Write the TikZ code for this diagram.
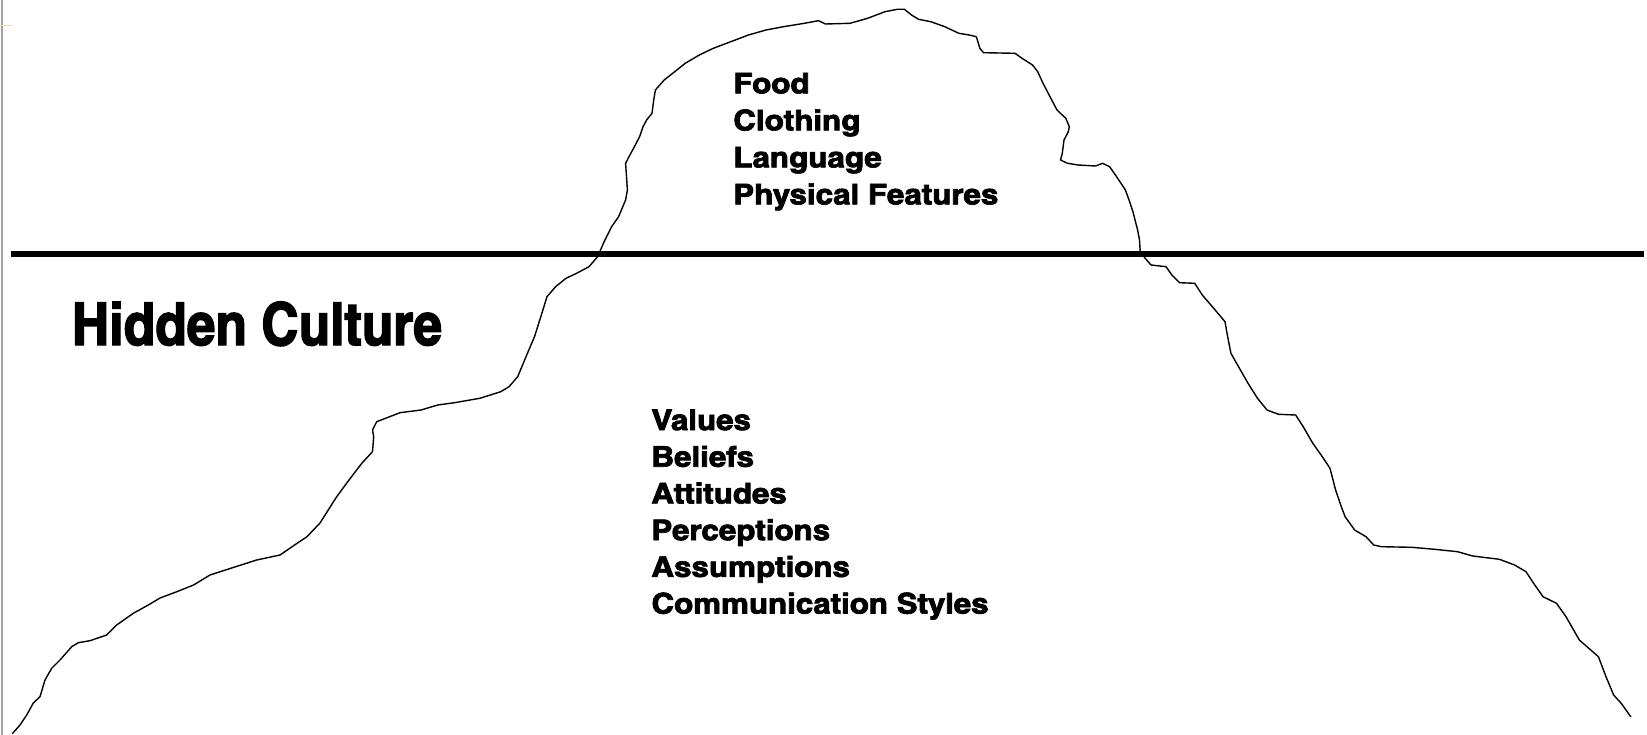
\documentclass[tikz,border=0pt]{standalone}
\usepackage{fontspec}
\usepackage{graphicx}
\newfontfamily\impactish{texgyreheroscn-bold}[Extension=.otf, FakeBold=2.2]
\tikzset{
  waterline/.style={line width=6pt, black},
  iceberg/.style={line width=1.4pt, black, line join=round, line cap=round},
  label/.style={inner sep=0pt, outer sep=0pt, anchor=base west, align=left},
}
\begin{document}
\begin{tikzpicture}[x=1pt, y=-1pt]
\useasboundingbox (0,0) rectangle (1647,735);
\fill[white] (0,0) rectangle (1647,735);
% window edge
\fill[black!37] (1,0) rectangle (3,735);
\draw[color={rgb,255:red,230;green,222;blue,176}, line width=1pt] (0,26) -- (12,26);
% water line
\coordinate (wl) at (11,254);
\coordinate (wr) at (1644,254);
\draw[waterline] (wl) -- (wr);
% iceberg outline
\draw[iceberg] (12.7,733.3) -- (20,725) -- (26.7,715) -- (33.3,703) -- (40,696.7) -- (45,680) -- (51.7,668.3) -- (60,660) -- (71.7,646.7) -- (78.3,642.7) -- (90,640.7) -- (106.7,635) -- (116.7,625) -- (133.3,613.3) -- (148.3,605) -- (160,598) -- (176.8,591.7) -- (193.6,585) -- (210,575) -- (235.7,566.7) -- (256.7,560) -- (280,555) -- (294.6,545) -- (307,536.7) -- (320,523) -- (336.7,496.7) -- (349,480) -- (362,463) -- (372.5,451.7) -- (373.7,436.7) -- (372.5,430) -- (376.7,421.7) -- (400,412.7) -- (421,410) -- (437.7,405) -- (454.5,402.7) -- (479.8,398.3) -- (500.8,391.7) -- (509,386.7) -- (517.7,376.7) -- (526,356.7) -- (534.5,336.7) -- (540.8,316.7) -- (547,296.7) -- (555.6,286.7) -- (566,278.3) -- (576.6,273.3) -- (589,266.7) -- (597.6,256.7) -- (604,242) -- (611.6,226.7) -- (618.6,216.7) -- (625.6,200) -- (627.4,190) -- (625.6,163.3) -- (629,156.7) -- (634.4,146.7) -- (639.6,136.7) -- (643,126.7) -- (646.6,120) -- (652,113.3) -- (653.7,100) -- (655.4,90) -- (664.2,80) -- (674.7,71.7) -- (685.2,63.3) -- (699.3,55) -- (713.3,48.3) -- (730.8,41.7) -- (748.4,35) -- (766,30) -- (783.4,26.7) -- (804.5,23.3) -- (818.5,20.7) -- (825.5,24) -- (850,23.3) -- (867.6,18.3) -- (885,11.7) -- (897.4,9.3) -- (904.4,9.3) -- (911.5,15) -- (918.5,19.3) -- (930.8,21.7) -- (944.8,26.7) -- (958.8,33.3) -- (969.3,35) -- (976.3,36.7) -- (979.9,48.3) -- (983.4,52.7) -- (1015,53.3) -- (1022,58.3) -- (1032.5,65) -- (1037.7,71.7) -- (1043,83.3) -- (1050,96.7) -- (1057,110) -- (1065.8,118.3) -- (1069.3,126.7) -- (1068.3,131.7) -- (1064,140) -- (1062.3,153.3) -- (1060.5,160) -- (1067.5,163.3) -- (1078,165) -- (1095.6,166) -- (1102.6,163.3) -- (1109.6,166.7) -- (1116.6,176.7) -- (1125.4,190) -- (1129,200) -- (1133,212) -- (1137.6,230) -- (1139.5,240) -- (1140.2,251.7) -- (1145.2,258.3) -- (1151,265) -- (1166,266.7) -- (1171.9,275) -- (1179.5,282.7) -- (1194.7,283.3) -- (1202.3,295) -- (1213.7,308.3) -- (1225,321.7) -- (1227,333.3) -- (1230.9,353.3) -- (1240.4,370) -- (1248,383.3) -- (1257.5,398.3) -- (1267,410) -- (1278.5,414.3) -- (1295.6,415) -- (1303.2,426.7) -- (1312.8,443.3) -- (1322.3,456.7) -- (1330,468.3) -- (1335.6,490) -- (1341.3,506.7) -- (1345.1,516.7) -- (1354.6,530) -- (1366,536.7) -- (1373.7,545) -- (1381.3,546.7) -- (1411.8,547.3) -- (1434.6,549.3) -- (1457.5,551.7) -- (1472.7,556) -- (1499.4,559.3) -- (1514.6,565) -- (1526,571.7) -- (1533.6,583.3) -- (1543,596.7) -- (1556.5,603.3) -- (1566,616.7) -- (1579.3,640) -- (1598.4,656.7) -- (1606,676.7) -- (1613.6,695) -- (1621.2,703.3) -- (1630.7,716.7);
% texts
\node[label, font=\impactish\fontsize{28.5}{37}\selectfont] (visible) at (733.3,93.3)
  {\resizebox{265pt}{\height}{\begin{tabular}[t]{@{}l@{}}Food\\Clothing\\Language\\Physical Features\end{tabular}}};
\node[label, font=\impactish\fontsize{59}{70}\selectfont] (hidden) at (72,345)
  {\resizebox{370pt}{\height}{Hidden Culture}};
\node[label, font=\impactish\fontsize{28.5}{36.7}\selectfont] (invisible) at (651.5,430)
  {\resizebox{337pt}{\height}{\begin{tabular}[t]{@{}l@{}}Values\\Beliefs\\Attitudes\\Perceptions\\Assumptions\\Communication Styles\end{tabular}}};
\end{tikzpicture}
\end{document}
